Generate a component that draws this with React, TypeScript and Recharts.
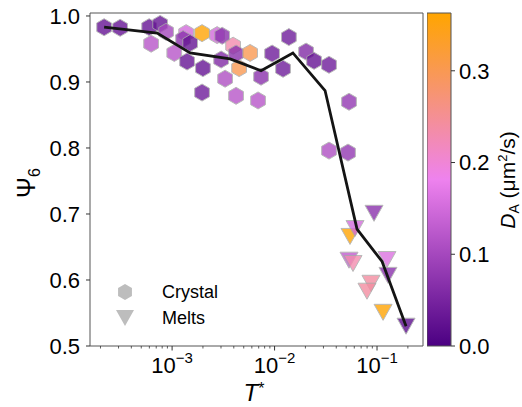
import React from "react";
import {
  Bar,
  BarChart,
  Legend,
  ReferenceArea,
  Scatter,
  ScatterChart,
  XAxis,
  YAxis,
} from "recharts";

const FONT = '"Liberation Sans", Arial, Helvetica, sans-serif';

// crystal states (hexagons)
const crystalT = [
  2.17e-4, 3.11e-4, 5.97e-4, 7.64e-4, 8.73e-4, 6.24e-4, 1.37e-3, 1.28e-3,
  1.5e-3, 1.05e-3, 1.4e-3, 2.0e-3, 1.96e-3, 2.75e-3, 3.08e-3, 3.94e-3,
  4.51e-3, 4.21e-3, 5.77e-3, 3.01e-3, 3.29e-3, 1.96e-3, 4.21e-3, 6.9e-3,
  7.38e-3, 9.46e-3, 1.21e-2, 1.38e-2, 2.03e-2, 2.43e-2, 3.4e-2, 5.33e-2,
  3.4e-2, 5.21e-2,
];
const crystalPsi = [
  0.983, 0.982, 0.983, 0.988, 0.976, 0.958, 0.974, 0.965, 0.959, 0.944, 0.931,
  0.921, 0.974, 0.971, 0.97, 0.955, 0.921, 0.943, 0.944, 0.934, 0.905, 0.884,
  0.879, 0.872, 0.908, 0.943, 0.92, 0.968, 0.946, 0.932, 0.926, 0.87, 0.796,
  0.793,
];
const crystalD = [
  0.03, 0.03, 0.03, 0.03, 0.1, 0.12, 0.15, 0.07, 0.03, 0.12, 0.03, 0.03, 0.36,
  0.15, 0.07, 0.23, 0.3, 0.07, 0.3, 0.06, 0.11, 0.04, 0.12, 0.12, 0.07, 0.04,
  0.04, 0.04, 0.06, 0.03, 0.04, 0.08, 0.11, 0.08,
];

// melted states (triangles)
const meltT = [
  0.0935, 0.0545, 0.061, 0.0533, 0.0583, 0.125, 0.128, 0.0873, 0.0798, 0.1146,
  0.192,
];
const meltPsi = [
  0.701, 0.666, 0.678, 0.63, 0.625, 0.631, 0.607, 0.595, 0.583, 0.551, 0.53,
];
const meltD = [
  0.07, 0.36, 0.15, 0.13, 0.23, 0.16, 0.07, 0.24, 0.24, 0.36, 0.02,
];

// binned average
const lineT = [
  2.17e-4, 7.15e-4, 1.5e-3, 3.68e-3, 7.38e-3, 1.51e-2, 3.11e-2, 6.38e-2, 0.112,
  0.192,
];
const linePsi = [
  0.983, 0.974, 0.944, 0.935, 0.917, 0.944, 0.887, 0.677, 0.628, 0.53,
];

const seriesNames = ["Crystal", "Melts"];
const yTicks = [0.5, 0.6, 0.7, 0.8, 0.9, 1.0];
const xDecades = [-4, -3, -2, -1];
const xMinorSteps = [2, 3, 4, 5, 6, 7, 8, 9];
const cbarTicks = [0, 0.1, 0.2, 0.3];

const X_DOMAIN: [number, number] = [1.58e-4, 0.281];
const Y_DOMAIN: [number, number] = [0.5, 1.0045];
const D_MAX = 0.363;

const CMAP = [
  [75, 0, 130],
  [238, 130, 238],
  [255, 165, 0],
];

function cmap(d: number) {
  const t = Math.min(1, Math.max(0, d / D_MAX)) * (CMAP.length - 1);
  const i = Math.min(CMAP.length - 2, Math.floor(t));
  const f = t - i;
  const c = CMAP[i].map((v, k) => Math.round(v + (CMAP[i + 1][k] - v) * f));
  return `rgb(${c[0]},${c[1]},${c[2]})`;
}

const xTicks: number[] = [];
xDecades.forEach((e) => {
  [1, ...xMinorSteps].forEach((k) => {
    const v = k * Math.pow(10, e);
    if (v >= X_DOMAIN[0] && v <= X_DOMAIN[1]) xTicks.push(v);
  });
});

const crystalData = crystalT.map((t, i) => ({
  t,
  psi: crystalPsi[i],
  d: crystalD[i],
}));
const meltData = meltT.map((t, i) => ({ t, psi: meltPsi[i], d: meltD[i] }));
const lineData = lineT.map((t, i) => ({ t, psi: linePsi[i] }));

function hexPoints(cx: number, cy: number, r: number) {
  return [90, 150, 210, 270, 330, 30]
    .map((a) => {
      const rad = (a * Math.PI) / 180;
      return `${cx + r * Math.cos(rad)},${cy - r * Math.sin(rad)}`;
    })
    .join(" ");
}

function triPoints(cx: number, cy: number, w: number, h: number) {
  return `${cx - w},${cy - h} ${cx + w},${cy - h} ${cx},${cy + h}`;
}

function HexShape(props: any) {
  const { cx, cy, payload } = props;
  return (
    <polygon
      points={hexPoints(cx, cy, 8.5)}
      fill={cmap(payload.d)}
      stroke="#a8a8a8"
      strokeWidth={1}
      opacity={0.8}
    />
  );
}

function TriShape(props: any) {
  const { cx, cy, payload } = props;
  return (
    <polygon
      points={triPoints(cx, cy, 9, 8)}
      fill={cmap(payload.d)}
      stroke="#a8a8a8"
      strokeWidth={1}
      opacity={0.8}
    />
  );
}

function NoShape() {
  return <g />;
}

function XTick(props: any) {
  const { x, y, payload } = props;
  const e = Math.log10(payload.value);
  const major = Math.abs(e - Math.round(e)) < 1e-6;
  return (
    <g>
      <line
        x1={x}
        x2={x}
        y1={y}
        y2={y + (major ? 4.5 : 2.5)}
        stroke="#333"
        strokeWidth={major ? 1 : 0.8}
      />
      {major && (
        <text
          x={x}
          y={y + 27}
          textAnchor="middle"
          fontSize={22}
          fill="#000"
          fontFamily={FONT}
        >
          10
          <tspan dy={-10} fontSize={15}>
            {"\u2212" + Math.abs(Math.round(e))}
          </tspan>
        </text>
      )}
    </g>
  );
}

function LegendBox(props: any) {
  const items = (props.payload || []).filter((p: any) =>
    seriesNames.includes(p.value)
  );
  return (
    <div style={{ fontFamily: FONT, fontSize: 18, color: "#000" }}>
      {items.map((p: any) => (
        <div
          key={p.value}
          style={{ display: "flex", alignItems: "center", height: 26 }}
        >
          <svg width={30} height={26} style={{ marginRight: 22 }}>
            {p.value === "Crystal" ? (
              <polygon points={hexPoints(15, 13, 8)} fill="#bdbdbd" />
            ) : (
              <polygon points={triPoints(15, 13, 9, 8)} fill="#bdbdbd" />
            )}
          </svg>
          <span>{p.value}</span>
        </div>
      ))}
    </div>
  );
}

export default function App() {
  return (
    <div
      style={{
        position: "fixed",
        left: 0,
        top: 0,
        width: 522,
        height: 407,
        background: "#fff",
      }}
    >
      <div style={{ position: "absolute", left: 0, top: 0 }}>
        <ScatterChart
          width={522}
          height={407}
          margin={{ top: 13, right: 99, bottom: 0, left: 0 }}
        >
          <XAxis
            type="number"
            dataKey="t"
            scale="log"
            domain={X_DOMAIN}
            allowDataOverflow
            ticks={xTicks}
            interval={0}
            height={61}
            tickSize={0}
            tickMargin={0}
            tickLine={false}
            axisLine={false}
            tick={<XTick />}
          />
          <YAxis
            type="number"
            dataKey="psi"
            domain={Y_DOMAIN}
            allowDataOverflow
            ticks={yTicks}
            interval={0}
            width={90}
            tickSize={4}
            tickMargin={6}
            axisLine={false}
            tickLine={{ stroke: "#333" }}
            tickFormatter={(v) => v.toFixed(1)}
            tick={{ fontSize: 22, fill: "#000", fontFamily: FONT }}
          />
          <ReferenceArea
            x1={X_DOMAIN[0]}
            x2={X_DOMAIN[1]}
            y1={Y_DOMAIN[0]}
            y2={Y_DOMAIN[1]}
            fill="none"
            stroke="#555"
            strokeWidth={1}
            ifOverflow="visible"
          />
          <Scatter
            name={seriesNames[0]}
            data={crystalData}
            shape={HexShape}
            isAnimationActive={false}
          />
          <Scatter
            name={seriesNames[1]}
            data={meltData}
            shape={TriShape}
            isAnimationActive={false}
          />
          <Scatter
            name="average"
            data={lineData}
            shape={NoShape}
            line={{ stroke: "#141414", strokeWidth: 2.8 }}
            legendType="none"
            isAnimationActive={false}
          />
          <Legend
            layout="vertical"
            align="center"
            verticalAlign="middle"
            wrapperStyle={{ left: 110, top: 279, width: 130 }}
            content={<LegendBox />}
          />
        </ScatterChart>
      </div>

      <div style={{ position: "absolute", left: 427, top: 0 }}>
        <BarChart
          width={95}
          height={407}
          data={[{ name: "D", v: D_MAX }]}
          margin={{ top: 13, right: 0, bottom: 61, left: 0 }}
          barCategoryGap={0}
        >
          <defs>
            <linearGradient id="cbarGrad" x1="0" y1="1" x2="0" y2="0">
              {CMAP.map((c, i) => (
                <stop
                  key={i}
                  offset={`${(i / (CMAP.length - 1)) * 100}%`}
                  stopColor={`rgb(${c[0]},${c[1]},${c[2]})`}
                />
              ))}
            </linearGradient>
          </defs>
          <XAxis dataKey="name" hide />
          <YAxis
            orientation="right"
            type="number"
            domain={[0, D_MAX]}
            ticks={cbarTicks}
            interval={0}
            width={71}
            tickSize={4}
            tickMargin={4}
            axisLine={false}
            tickLine={{ stroke: "#333" }}
            tickFormatter={(v) => v.toFixed(1)}
            tick={{ fontSize: 22, fill: "#000", fontFamily: FONT }}
          />
          <Bar
            dataKey="v"
            fill="url(#cbarGrad)"
            stroke="#555"
            strokeWidth={1}
            isAnimationActive={false}
          />
        </BarChart>
      </div>

      <svg
        width={522}
        height={407}
        style={{ position: "absolute", left: 0, top: 0, pointerEvents: "none" }}
        fontFamily={FONT}
      >
        <text
          x={35}
          y={183}
          transform="rotate(-90 35 183)"
          textAnchor="middle"
          fontSize={25}
          fill="#000"
        >
          Ψ
          <tspan fontSize={16} dy={5}>
            6
          </tspan>
        </text>
        <text x={254} y={401} textAnchor="middle" fontSize={24} fill="#000">
          <tspan fontStyle="italic">T</tspan>
          <tspan dy={-7} fontSize={16}>
            *
          </tspan>
        </text>
        <text
          x={515}
          y={180}
          transform="rotate(-90 515 180)"
          textAnchor="middle"
          fontSize={21}
          fill="#000"
        >
          <tspan fontStyle="italic">D</tspan>
          <tspan fontSize={14} dy={4}>
            A
          </tspan>
          <tspan dy={-4}> (μm</tspan>
          <tspan fontSize={13} dy={-8}>
            2
          </tspan>
          <tspan dy={8}>/s)</tspan>
        </text>
      </svg>
    </div>
  );
}
